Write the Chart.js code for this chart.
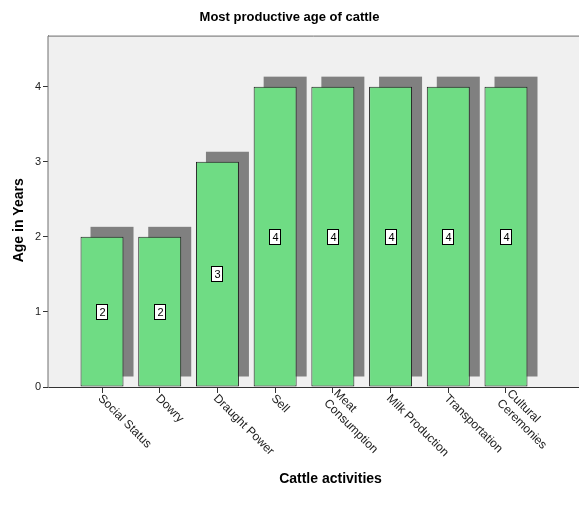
<!DOCTYPE html>
<html>
<head>
<meta charset="utf-8">
<script src="https://cdn.jsdelivr.net/npm/chart.js@4.4.1/dist/chart.umd.min.js"></script>
<style>
  html, body { margin: 0; padding: 0; background: #ffffff; overflow: hidden; }
  #wrap { width: 579px; height: 519px; }
</style>
</head>
<body>
<div id="wrap"><canvas id="chart" width="579" height="519"></canvas></div>
<script>
// data
const categories = ['Social Status', 'Dowry', 'Draught Power', 'Sell', 'Meat Consumption', 'Milk Production', 'Transportation', 'Cultural Ceremonies'];
const tickLabels = [['Social Status'], ['Dowry'], ['Draught Power'], ['Sell'], ['Meat', 'Consumption'], ['Milk Production'], ['Transportation'], ['Cultural', 'Ceremonies']];
const ageInYears = [2, 2, 3, 4, 4, 4, 4, 4];
const yTicks = [0, 1, 2, 3, 4];
const xTitle = 'Cattle activities';
const yTitle = 'Age in Years';

const FONT = '"Liberation Sans", Arial, sans-serif';

// gray plot background, frame and drop shadows
const plotFrame = {
    id: 'plotFrame',
    beforeDatasetsDraw(chart) {
        const {ctx, chartArea: a} = chart;
        ctx.save();
        ctx.fillStyle = '#f0f0f0';
        ctx.fillRect(a.left, a.top, a.right - a.left, a.bottom - a.top);
        ctx.strokeStyle = '#6e6e6e';
        ctx.lineWidth = 1;
        ctx.beginPath();
        ctx.moveTo(a.left, a.bottom);
        ctx.lineTo(a.left, a.top + 0.5);
        ctx.lineTo(a.right, a.top + 0.5);
        ctx.stroke();

        const meta = chart.getDatasetMeta(0);
        ctx.fillStyle = '#808080';
        meta.data.forEach(bar => {
            const p = bar.getProps(['x', 'y', 'base', 'width'], true);
            ctx.fillRect(p.x - p.width / 2 + 10, p.y - 10, p.width, p.base - p.y);
        });
        ctx.restore();
    }
};

// value boxes, slanted category labels, axis titles
const barLabels = {
    id: 'barLabels',
    afterDatasetsDraw(chart) {
        const {ctx, chartArea: a} = chart;
        const xScale = chart.scales.x;
        const yScale = chart.scales.y;
        const meta = chart.getDatasetMeta(0);
        ctx.save();
        ctx.font = '11px ' + FONT;
        ctx.textAlign = 'center';
        ctx.textBaseline = 'middle';
        meta.data.forEach((bar, i) => {
            const v = ageInYears[i];
            const cx = Math.round(bar.x);
            const cy = Math.round(yScale.getPixelForValue(v / 2));
            const txt = String(v);
            const w = Math.ceil(ctx.measureText(txt).width) + 5;
            const h = 16;
            ctx.fillStyle = '#ffffff';
            ctx.fillRect(cx - w / 2, cy - h / 2, w, h);
            ctx.strokeStyle = '#000000';
            ctx.lineWidth = 1;
            ctx.strokeRect(cx - w / 2 + 0.5, cy - h / 2 + 0.5, w - 1, h - 1);
            ctx.fillStyle = '#000000';
            ctx.fillText(txt, cx + 0.5, cy + 0.5);
        });

        ctx.font = '12px ' + FONT;
        ctx.fillStyle = '#222222';
        ctx.textAlign = 'left';
        ctx.textBaseline = 'middle';
        tickLabels.forEach((lines, i) => {
            const px = xScale.getPixelForValue(i);
            const py = xScale.top + 6;
            ctx.save();
            ctx.translate(px, py);
            ctx.rotate(Math.PI / 4);
            lines.forEach((line, j) => {
                const ly = (j - (lines.length - 1) / 2) * 14 + 4;
                ctx.fillText(line, 1, ly);
            });
            ctx.restore();
        });

        // axis titles (SPSS centres them on the full, uncropped plot)
        ctx.font = 'bold 14px ' + FONT;
        ctx.fillStyle = '#000000';
        ctx.textAlign = 'center';
        ctx.textBaseline = 'middle';
        ctx.fillText(xTitle, (a.left + a.right) / 2 + 17, 479);
        ctx.save();
        ctx.translate(19, (a.top + a.bottom) / 2 + 9);
        ctx.rotate(-Math.PI / 2);
        ctx.fillText(yTitle, 0, 0);
        ctx.restore();
        ctx.restore();
    }
};

new Chart(document.getElementById('chart'), {
    type: 'bar',
    data: {
        labels: categories,
        datasets: [{
            label: yTitle,
            data: ageInYears.map((v, i) => ({x: i, y: v})),
            backgroundColor: '#6fdc84',
            borderColor: '#1e1e1e',
            borderWidth: 1,
            borderSkipped: false,
            barPercentage: 0.745,
            categoryPercentage: 1
        }]
    },
    options: {
        responsive: false,
        animation: false,
        layout: { padding: 0 },
        plugins: {
            legend: { display: false },
            tooltip: { enabled: false },
            title: {
                display: true,
                text: 'Most productive age of cattle',
                color: '#000000',
                font: { family: FONT, size: 13, weight: 'bold' },
                align: 'center',
                padding: { top: 10, bottom: 10 }
            }
        },
        scales: {
            x: {
                type: 'linear',
                min: -0.936,
                max: 8.265,
                offset: false,
                afterBuildTicks(scale) {
                    scale.ticks = categories.map((c, i) => ({value: i}));
                },
                afterFit(scale) { scale.height = 132; },
                grid: { drawOnChartArea: false, offset: false, tickLength: 6, color: '#333333' },
                border: { display: true, color: '#333333' },
                ticks: { color: 'rgba(0,0,0,0)', autoSkip: false, maxRotation: 0, font: { size: 8 } }
            },
            y: {
                min: 0,
                max: 4.68,
                afterBuildTicks(scale) {
                    scale.ticks = yTicks.map(v => ({value: v}));
                },
                afterFit(scale) { scale.width = 48; },
                grid: { drawOnChartArea: false, tickLength: 5, color: '#333333' },
                border: { display: true, color: '#6e6e6e' },
                ticks: {
                    color: '#222222',
                    padding: 2,
                    font: { family: FONT, size: 11 }
                }
            }
        }
    },
    plugins: [plotFrame, barLabels]
});
</script>
</body>
</html>
